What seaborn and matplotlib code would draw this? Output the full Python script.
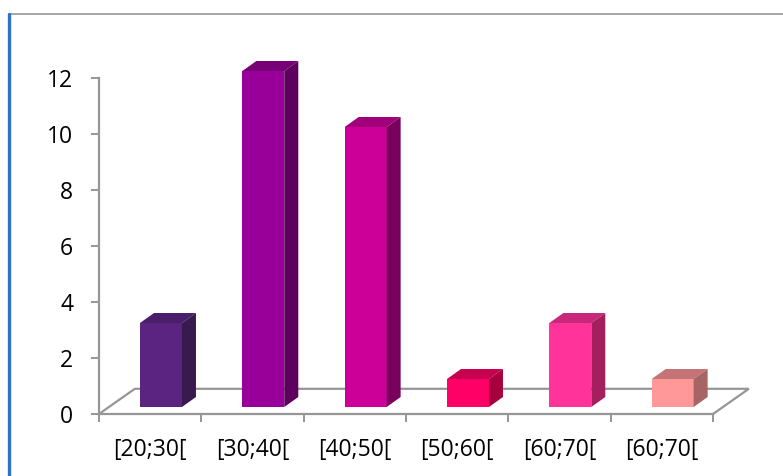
import matplotlib
matplotlib.use("Agg")
import matplotlib.pyplot as plt
import matplotlib.transforms as mtransforms
from matplotlib.patches import Polygon
from matplotlib.lines import Line2D
import pandas as pd
import seaborn as sns

# Data
categories = ["[20;30[", "[30;40[", "[40;50[", "[50;60[", "[60;70[", "[60;70[ "]
counts = [3, 12, 10, 1, 3, 1]
front_colors = ["#5B2480", "#990099", "#CC0099", "#FF0066", "#FF3399", "#FF9999"]
top_colors = ["#4A1E6A", "#770077", "#A0007A", "#C80050", "#C8287A", "#C47474"]
side_colors = ["#391A4F", "#5E005E", "#7A005E", "#A6003F", "#A31F5E", "#A66464"]
y_ticks = [0, 2, 4, 6, 8, 10, 12]

GRAY = "#969696"
W, H = 783, 476

sns.set_theme(style="white")
plt.rcParams["font.family"] = ["Open Sans", "DejaVu Sans"]

df = pd.DataFrame({"cat": categories, "count": counts})

fig = plt.figure(figsize=(W / 100, H / 100), dpi=100)
ax = fig.add_axes([99 / W, 62 / H, (713 - 99) / W, 336 / H])

sns.barplot(data=df, x="cat", y="count", hue="cat", palette=front_colors,
            width=0.41, legend=False, ax=ax, saturation=1, linewidth=0)

ax.set_xlim(-0.5, len(categories) - 0.5)
ax.set_ylim(0, 12)

# 3D look: shift bars into the floor, add top and side faces
shift = ax.transData + mtransforms.ScaledTranslation(10.8 / 100, 7 / 100, fig.dpi_scale_trans)
depth_x, depth_y = 0.137, 0.357
for i, patch in enumerate(ax.patches):
    patch.set_transform(shift)
    patch.set_clip_on(False)
    x0, w, h = patch.get_x(), patch.get_width(), patch.get_height()
    top = Polygon([(x0, h), (x0 + w, h), (x0 + w + depth_x, h + depth_y), (x0 + depth_x, h + depth_y)],
                  closed=True, facecolor=top_colors[i], edgecolor="none", transform=shift, clip_on=False, zorder=3)
    side = Polygon([(x0 + w, 0), (x0 + w + depth_x, depth_y), (x0 + w + depth_x, h + depth_y), (x0 + w, h)],
                   closed=True, facecolor=side_colors[i], edgecolor="none", transform=shift, clip_on=False, zorder=3)
    ax.add_patch(top)
    ax.add_patch(side)
    patch.set_zorder(3)

# floor outline
floor_dx, floor_dy = 0.35, 0.9
xl, xr = -0.5, len(categories) - 0.5
ax.plot([xl, xl + floor_dx, xr + floor_dx, xr], [0, floor_dy, floor_dy, 0],
        color=GRAY, lw=1.6, clip_on=False, zorder=1, solid_joinstyle="miter")

# axes styling
for s in ["top", "right"]:
    ax.spines[s].set_visible(False)
for s in ["left", "bottom"]:
    ax.spines[s].set_color(GRAY)
    ax.spines[s].set_linewidth(1.6)

ax.set_yticks(y_ticks)
ax.set_yticklabels([str(v) for v in y_ticks])
ax.tick_params(axis="y", which="major", direction="out", length=5.5, width=1.4,
               color=GRAY, labelsize=16.5, labelcolor="black", pad=13, left=True)
ax.set_xticks(range(len(categories)))
ax.set_xticklabels([c.strip() for c in categories])
ax.set_xticks([i - 0.5 for i in range(len(categories) + 1)], minor=True)
ax.tick_params(axis="x", which="major", length=0, labelsize=16.5, labelcolor="black", pad=17)
ax.tick_params(axis="x", which="minor", direction="out", length=5.5, width=1.4,
               color=GRAY, bottom=True)
ax.set_xlabel("")
ax.set_ylabel("")

# chart frame
fig.add_artist(Line2D([9 / W, 1], [1 - 14 / H, 1 - 14 / H], color=GRAY, lw=1.2))
fig.add_artist(Line2D([9 / W, 9 / W], [0, 1 - 14 / H], color="#2F72C4", lw=2.4))

fig.savefig("out.png", dpi=100)
